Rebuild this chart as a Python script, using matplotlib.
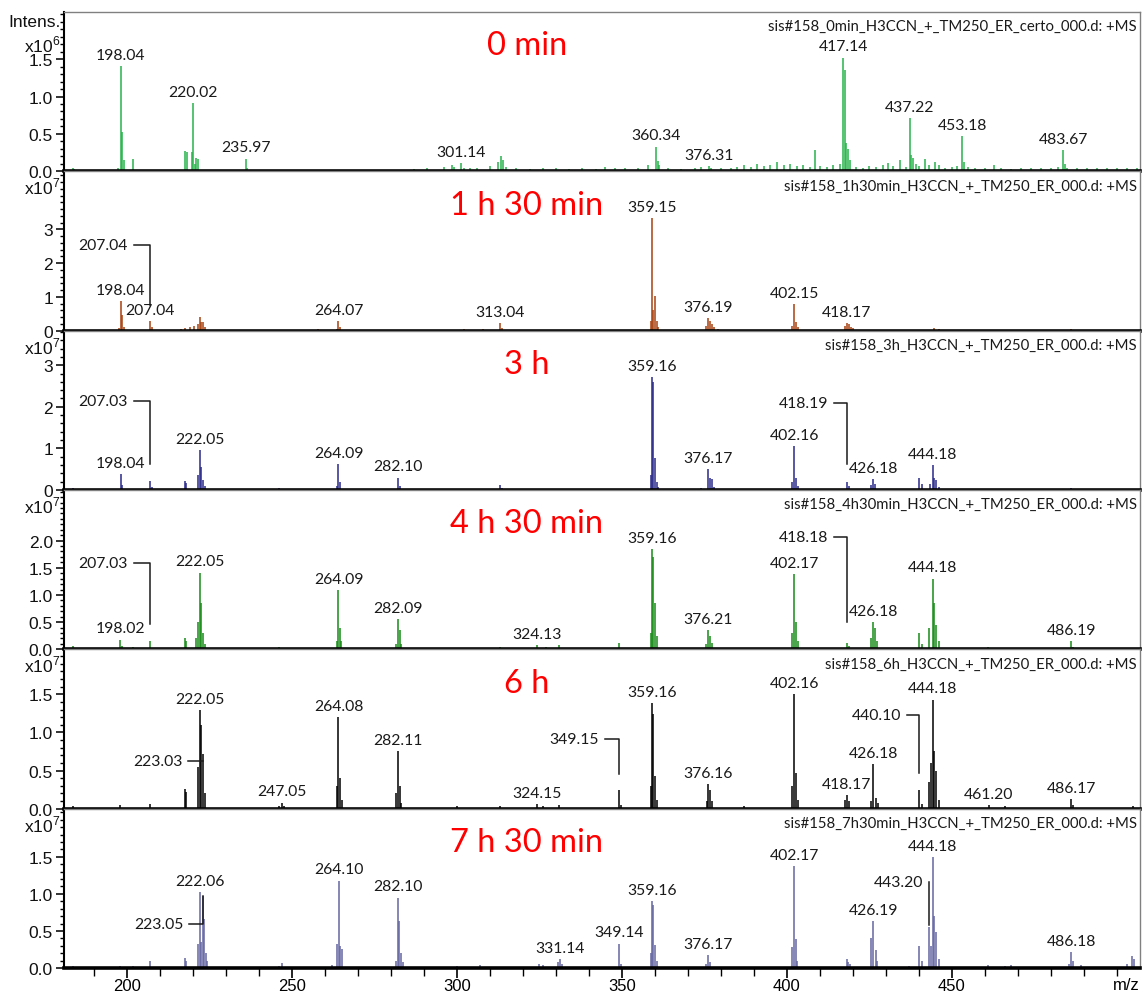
import matplotlib
matplotlib.use('Agg')
import matplotlib.pyplot as plt
from matplotlib.ticker import MultipleLocator, FixedLocator, FormatStrFormatter

plt.rcParams['font.family'] = ['Liberation Sans', 'DejaVu Sans']
plt.rcParams['mathtext.fontset'] = 'custom'
plt.rcParams['mathtext.rm'] = 'Liberation Sans'

X_MIN, X_MAX = 180.9, 507.0

# ---------------- data: m/z and intensity (in units of 10^exp) ----------------
p1_mz = [183.5, 184.0, 197.3, 198.04, 198.5, 199.0, 201.8, 202.3, 214.8, 217.7, 218.2, 219.6,
         220.02, 220.5, 221.0, 221.5, 227.0, 235.97, 236.5, 245.0, 255.0, 264.0, 281.0, 287.0,
         291.0, 296.0, 298.5, 299.0, 301.14, 302.0, 304.0, 306.0, 310.0, 312.5, 313.2, 313.8,
         315.0, 318.0, 322.0, 326.0, 330.0, 334.0, 338.0, 342.0, 345.0, 348.0, 351.0, 355.0,
         358.0, 360.34, 360.8, 361.3, 364.0, 368.0, 372.0, 374.0, 376.31, 377.0, 380.0, 383.0,
         385.0, 387.0, 389.0, 391.0, 393.0, 395.0, 397.0, 399.0, 401.0, 403.0, 405.0, 407.0,
         408.5, 410.0, 412.0, 414.0, 416.0, 417.14, 417.5, 418.0, 418.5, 419.0, 421.0, 423.0,
         425.0, 427.0, 429.0, 430.5, 432.0, 434.2, 436.0, 437.22, 437.7, 438.2, 439.0, 440.0,
         441.9, 443.0, 444.8, 446.0, 448.0, 450.0, 451.5, 453.18, 453.7, 455.0, 457.0, 460.0,
         462.8, 465.0, 468.0, 471.0, 474.0, 477.0, 480.0, 482.0, 483.67, 484.2, 485.0, 488.0,
         491.0, 494.0, 497.0, 500.0, 503.0, 506.0]
p1_int = [0.04, 0.03, 0.04, 1.41, 0.52, 0.15, 0.16, 0.02, 0.02, 0.27, 0.26, 0.26,
          0.91, 0.10, 0.18, 0.16, 0.02, 0.17, 0.05, 0.02, 0.02, 0.02, 0.02, 0.03,
          0.04, 0.06, 0.08, 0.06, 0.11, 0.05, 0.04, 0.05, 0.07, 0.12, 0.20, 0.15,
          0.06, 0.04, 0.03, 0.04, 0.05, 0.03, 0.04, 0.03, 0.06, 0.04, 0.05, 0.04,
          0.08, 0.33, 0.14, 0.08, 0.05, 0.03, 0.05, 0.06, 0.07, 0.05, 0.04, 0.05,
          0.06, 0.08, 0.06, 0.10, 0.07, 0.09, 0.12, 0.08, 0.10, 0.07, 0.09, 0.06,
          0.28, 0.07, 0.06, 0.08, 0.10, 1.52, 1.36, 0.38, 0.30, 0.15, 0.06, 0.05,
          0.07, 0.06, 0.08, 0.11, 0.07, 0.15, 0.06, 0.71, 0.22, 0.18, 0.10, 0.07,
          0.17, 0.08, 0.12, 0.08, 0.05, 0.06, 0.07, 0.47, 0.12, 0.06, 0.04, 0.05,
          0.08, 0.04, 0.03, 0.04, 0.05, 0.04, 0.05, 0.06, 0.28, 0.10, 0.05, 0.04,
          0.05, 0.04, 0.05, 0.04, 0.05, 0.04]

p2_mz = [183.5, 197.6, 198.04, 198.5, 199.0, 207.04, 207.5, 216.5, 217.7, 219.0, 220.2, 221.5,
         222.0, 222.5, 223.0, 223.5, 240.0, 246.0, 258.0, 263.5, 264.07, 264.6, 280.0, 283.0,
         293.0, 302.0, 308.0, 313.04, 313.6, 320.0, 333.0, 358.8, 359.15, 359.5, 360.15, 360.6,
         361.0, 375.6, 376.19, 376.6, 377.2, 378.0, 379.0, 386.0, 395.0, 401.6, 402.15, 402.6,
         403.2, 417.7, 418.17, 418.7, 419.3, 420.0, 444.5, 446.0, 460.0, 470.0, 486.0, 500.0]
p2_int = [0.03, 0.08, 0.87, 0.47, 0.12, 0.28, 0.10, 0.05, 0.08, 0.10, 0.15, 0.20,
          0.40, 0.25, 0.25, 0.12, 0.02, 0.03, 0.04, 0.06, 0.28, 0.12, 0.03, 0.03,
          0.03, 0.04, 0.04, 0.23, 0.08, 0.03, 0.02, 0.30, 3.34, 0.62, 1.04, 0.30,
          0.12, 0.15, 0.38, 0.30, 0.20, 0.10, 0.05, 0.03, 0.03, 0.15, 0.79, 0.25,
          0.10, 0.14, 0.22, 0.20, 0.12, 0.08, 0.07, 0.05, 0.03, 0.02, 0.04, 0.03]

p3_mz = [183.5, 198.04, 198.5, 207.03, 207.5, 217.5, 218.0, 221.5, 222.05, 222.5, 223.0, 223.5,
         246.0, 263.6, 264.09, 264.6, 282.10, 282.6, 291.0, 300.0, 305.0, 313.0, 313.5, 326.0,
         334.0, 358.8, 359.16, 359.5, 360.1, 360.6, 361.0, 374.0, 376.17, 376.6, 377.2, 378.0,
         401.6, 402.16, 402.7, 403.2, 418.19, 418.7, 425.6, 426.18, 426.7, 440.0, 441.0, 443.5,
         444.18, 444.7, 445.3, 446.0, 461.0, 486.0]
p3_int = [0.04, 0.38, 0.12, 0.22, 0.08, 0.22, 0.18, 0.35, 0.95, 0.55, 0.25, 0.10,
          0.04, 0.10, 0.63, 0.20, 0.30, 0.10, 0.03, 0.03, 0.03, 0.11, 0.05, 0.03,
          0.03, 0.35, 2.72, 2.60, 0.78, 0.20, 0.08, 0.06, 0.50, 0.28, 0.26, 0.08,
          0.20, 1.06, 0.30, 0.10, 0.20, 0.10, 0.12, 0.27, 0.15, 0.30, 0.15, 0.15,
          0.60, 0.30, 0.25, 0.08, 0.03, 0.05]

p4_mz = [183.5, 198.02, 198.5, 201.8, 207.03, 217.5, 218.0, 220.8, 221.5, 222.05, 222.5, 223.0,
         223.5, 246.0, 263.5, 264.09, 264.6, 265.0, 281.5, 282.09, 282.6, 283.0, 300.0, 313.0,
         324.13, 327.0, 331.0, 349.1, 358.8, 359.16, 359.5, 360.1, 360.6, 375.6, 376.21, 376.7,
         377.2, 401.6, 402.17, 402.7, 403.2, 418.18, 418.7, 425.5, 426.18, 426.6, 427.2, 440.0,
         441.0, 443.2, 444.18, 444.7, 445.3, 446.0, 461.0, 486.19, 486.7]
p4_int = [0.06, 0.18, 0.06, 0.05, 0.15, 0.20, 0.16, 0.20, 0.50, 1.41, 0.85, 0.30,
          0.10, 0.04, 0.15, 1.09, 0.40, 0.15, 0.10, 0.56, 0.35, 0.10, 0.03, 0.05,
          0.08, 0.05, 0.08, 0.12, 0.30, 1.84, 1.70, 0.85, 0.25, 0.10, 0.36, 0.25,
          0.12, 0.30, 1.39, 0.50, 0.15, 0.12, 0.06, 0.20, 0.50, 0.40, 0.15, 0.30,
          0.10, 0.40, 1.30, 0.85, 0.45, 0.15, 0.04, 0.15, 0.05]

p5_mz = [183.5, 198.0, 207.0, 217.5, 218.0, 221.5, 222.05, 222.5, 223.03, 223.5, 246.0, 247.05,
         247.5, 263.5, 264.08, 264.6, 265.1, 281.5, 282.11, 282.6, 283.1, 300.0, 313.0, 324.15,
         326.0, 331.0, 349.15, 349.6, 358.8, 359.16, 359.45, 360.1, 360.6, 375.7, 376.16, 376.6,
         377.2, 387.0, 401.6, 402.16, 402.6, 403.2, 417.7, 418.17, 418.7, 425.5, 426.18, 427.0,
         427.5, 440.10, 441.0, 443.2, 443.6, 444.18, 444.7, 445.3, 446.0, 461.20, 466.0, 486.17,
         486.7, 505.0]
p5_int = [0.03, 0.05, 0.06, 0.26, 0.22, 0.55, 1.29, 1.10, 0.72, 0.20, 0.04, 0.08,
          0.04, 0.30, 1.20, 0.40, 0.12, 0.20, 0.75, 0.30, 0.08, 0.03, 0.03, 0.06,
          0.04, 0.05, 0.24, 0.05, 0.30, 1.38, 1.24, 0.43, 0.12, 0.10, 0.32, 0.25,
          0.10, 0.03, 0.30, 1.50, 0.47, 0.12, 0.12, 0.18, 0.10, 0.10, 0.58, 0.14,
          0.08, 0.25, 0.06, 0.35, 0.60, 1.43, 0.75, 0.50, 0.12, 0.05, 0.03, 0.13,
          0.05, 0.04]

p6_mz = [183.5, 186.0, 198.0, 201.8, 207.0, 217.5, 218.0, 221.5, 222.06, 222.5, 223.05, 223.4,
         223.8, 224.3, 246.0, 247.0, 262.0, 263.6, 264.10, 264.6, 265.1, 281.6, 282.10, 282.5,
         283.0, 283.5, 300.0, 307.0, 325.0, 326.0, 330.6, 331.14, 331.7, 343.0, 349.14, 349.6,
         358.8, 359.16, 359.5, 360.1, 360.6, 375.6, 376.17, 376.6, 386.0, 393.0, 401.6, 402.17,
         402.6, 403.1, 418.1, 418.6, 419.0, 425.5, 426.19, 426.9, 427.4, 437.0, 440.0, 441.0,
         443.20, 443.6, 444.18, 444.6, 445.2, 446.0, 461.0, 466.0, 468.0, 485.5, 486.18, 486.8,
         489.0, 503.0, 504.5, 505.2]
p6_int = [0.03, 0.02, 0.03, 0.03, 0.09, 0.14, 0.10, 0.33, 1.03, 0.35, 0.97, 0.66,
          0.20, 0.10, 0.03, 0.07, 0.04, 0.33, 1.18, 0.30, 0.25, 0.10, 0.95, 0.63,
          0.20, 0.08, 0.03, 0.04, 0.05, 0.04, 0.08, 0.12, 0.06, 0.02, 0.33, 0.06,
          0.20, 0.90, 0.85, 0.31, 0.10, 0.05, 0.17, 0.08, 0.02, 0.02, 0.29, 1.37,
          0.39, 0.10, 0.12, 0.08, 0.05, 0.40, 0.63, 0.24, 0.10, 0.03, 0.30, 0.10,
          0.55, 0.30, 1.50, 0.70, 0.49, 0.12, 0.04, 0.03, 0.04, 0.05, 0.22, 0.10,
          0.04, 0.05, 0.16, 0.12]

# peak labels (m/z of labelled peaks)
p1_labels = [198.04, 220.02, 235.97, 301.14, 360.34, 376.31, 417.14, 437.22, 453.18, 483.67]
p2_labels = [198.04, 207.04, 264.07, 313.04, 359.15, 376.19, 402.15, 418.17]
p3_labels = [198.04, 222.05, 264.09, 282.10, 359.16, 376.17, 402.16, 426.18, 444.18]
p4_labels = [198.02, 222.05, 264.09, 282.09, 324.13, 359.16, 376.21, 402.17, 426.18, 444.18, 486.19]
p5_labels = [222.05, 247.05, 264.08, 282.11, 324.15, 359.16, 376.16, 402.16, 418.17, 426.18,
             444.18, 461.20, 486.17]
p6_labels = [222.06, 264.10, 282.10, 331.14, 349.14, 359.16, 376.17, 402.17, 426.19, 444.18, 486.18]

# labels with leader lines: (peak m/z, text right edge m/z, line level, line end)
p2_leaders = [(207.04, 200.3, 2.53, 0.77)]
p3_leaders = [(207.03, 200.2, 2.13, 0.62), (418.19, 412.5, 2.10, 0.62)]
p4_leaders = [(207.03, 200.2, 1.58, 0.46), (418.18, 412.5, 2.07, 0.50)]
p5_leaders = [(223.03, 216.7, 0.62, 0.62), (349.15, 343.1, 0.91, 0.46), (440.10, 434.5, 1.23, 0.47)]
p6_leaders = [(223.05, 217.0, 0.60, 0.97), (443.20, 441.3, 1.16, 0.58)]

titles = ['0 min', '1 h 30 min', '3 h', '4 h 30 min', '6 h', '7 h 30 min']
files = ['sis#158_0min_H3CCN_+_TM250_ER_certo_000.d: +MS',
         'sis#158_1h30min_H3CCN_+_TM250_ER_000.d: +MS',
         'sis#158_3h_H3CCN_+_TM250_ER_000.d: +MS',
         'sis#158_4h30min_H3CCN_+_TM250_ER_000.d: +MS',
         'sis#158_6h_H3CCN_+_TM250_ER_000.d: +MS',
         'sis#158_7h30min_H3CCN_+_TM250_ER_000.d: +MS']
exponents = [6, 7, 7, 7, 7, 7]
y_tick_values = [[0.0, 0.5, 1.0, 1.5], [0, 1, 2, 3], [0, 1, 2, 3],
                 [0.0, 0.5, 1.0, 1.5, 2.0], [0.0, 0.5, 1.0, 1.5], [0.0, 0.5, 1.0, 1.5]]
x_major_ticks = [200, 250, 300, 350, 400, 450]

# ---------------- styling ----------------
colors = ['#27b34a', '#a8410f', '#2a2a8a', '#178c17', '#000000', '#6666a3']
ymaxs = [2.13, 4.72, 3.83, 2.93, 2.09, 2.15]
minors = [0.1, 0.2, 0.2, 0.1, 0.1, 0.1]
fmts = ['%.1f', '%d', '%d', '%.1f', '%.1f', '%.1f']

LBL_FONT = ['Lato', 'DejaVu Sans']
panels = [
    (p1_mz, p1_int, p1_labels, []),
    (p2_mz, p2_int, p2_labels, p2_leaders),
    (p3_mz, p3_int, p3_labels, p3_leaders),
    (p4_mz, p4_int, p4_labels, p4_leaders),
    (p5_mz, p5_int, p5_labels, p5_leaders),
    (p6_mz, p6_int, p6_labels, p6_leaders),
]

W, H = 1142, 995
fig = plt.figure(figsize=(W / 100, H / 100), dpi=100)
left_px, right_px, top_px, bot_px = 64, 1140, 13, 969
ph = (bot_px - top_px) / 6.0

for i, (mz, inten, labels, leaders) in enumerate(panels):
    y0 = top_px + i * ph
    ax = fig.add_axes([left_px / W, 1 - (y0 + ph) / H, (right_px - left_px) / W, ph / H])
    ax.vlines(mz, 0, inten, color=colors[i], lw=1.1)
    ax.set_xlim(X_MIN, X_MAX)
    ax.set_ylim(0, ymaxs[i])
    ax.yaxis.set_major_locator(FixedLocator(y_tick_values[i]))
    ax.yaxis.set_minor_locator(MultipleLocator(minors[i]))
    ax.yaxis.set_major_formatter(FormatStrFormatter(fmts[i]))
    ax.tick_params(axis='y', which='major', direction='out', length=6, width=1.2,
                   labelsize=12.5, pad=2, colors='#111111')
    ax.tick_params(axis='y', which='minor', direction='out', length=3, width=1.0)
    for s in ('top', 'right'):
        ax.spines[s].set_color('#808080')
        ax.spines[s].set_linewidth(1.0)
    ax.spines['left'].set_linewidth(1.5)
    ax.spines['bottom'].set_linewidth(2.6)
    ax.spines['bottom'].set_zorder(5)
    if i < 5:
        ax.tick_params(axis='x', which='both', bottom=False, labelbottom=False)
    else:
        ax.set_xticks(x_major_ticks)
        ax.xaxis.set_minor_locator(MultipleLocator(10))
        ax.tick_params(axis='x', which='major', direction='out', length=7, width=1.2,
                       labelsize=12, pad=0.5)
        ax.tick_params(axis='x', which='minor', direction='out', length=6, width=1.0)
        ax.text(1.0, -0.055, 'm/z', transform=ax.transAxes, ha='right', va='top', fontsize=12)

    # peak labels
    lookup = dict(zip(mz, inten))
    for m in labels:
        ax.annotate(f'{m:.2f}', (m, lookup[m]), xytext=(0, 3), textcoords='offset points',
                    ha='center', va='bottom', fontsize=11.3, family=LBL_FONT, color='#1a1a1a')
    for (m, xr, ly, ye) in leaders:
        ax.text(xr, ly, f'{m:.2f}', ha='right', va='center', fontsize=11.3,
                family=LBL_FONT, color='#1a1a1a')
        ax.plot([xr + 1.8, m, m], [ly, ly, ye], color='#1a1a1a', lw=1.1)

    ax.text(0.43, 0.79, titles[i], transform=ax.transAxes, ha='center', va='center',
            fontsize=23.5, color='#ff0000', family=LBL_FONT)
    ax.text(0.997, 0.955, files[i], transform=ax.transAxes, ha='right', va='top',
            fontsize=10.7, family=LBL_FONT, color='#1a1a1a')
    ylab = 0.80 if i == 0 else 0.905
    ax.text(-0.003, ylab, r'x10$^{\mathregular{%d}}$' % exponents[i], transform=ax.transAxes,
            ha='right', va='center', fontsize=12.5, color='#111111')
    if i == 0:
        ax.text(-0.003, 0.94, 'Intens.', transform=ax.transAxes, ha='right', va='center',
                fontsize=12.5, color='#111111')

fig.savefig('out.png', dpi=100)
